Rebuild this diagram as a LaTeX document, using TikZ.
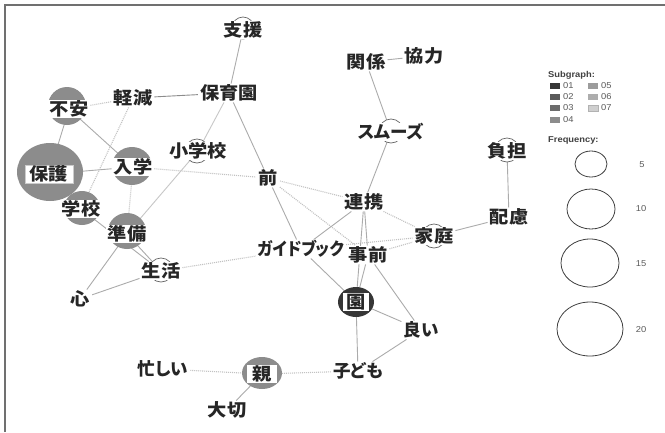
\documentclass[tikz,border=0pt]{standalone}
\usepackage{fontspec}
\newfontfamily\jp{Noto Sans CJK JP}[FakeStretch=1.1, RawFeature=+palt]
\newfontfamily\jpk{Noto Sans CJK JP}[FakeStretch=1.0, RawFeature=+palt]
\newfontfamily\jpn{Noto Sans CJK JP}[FakeStretch=0.91, RawFeature=+palt]
\newfontfamily\lgf{Liberation Sans}[FakeStretch=1.1]
\definecolor{grp1}{HTML}{363636}
\definecolor{grp2}{HTML}{5A5A5A}
\definecolor{grp3}{HTML}{6C6C6C}
\definecolor{grp4}{HTML}{8C8C8C}
\definecolor{grp5}{HTML}{9C9C9C}
\definecolor{grp6}{HTML}{ADADAD}
\definecolor{grp7}{HTML}{CFCFCF}
\definecolor{framec}{HTML}{707070}
\pgfdeclarelayer{bglayer}
\pgfdeclarelayer{edgelayer}
\pgfdeclarelayer{circlelayer}
\pgfsetlayers{bglayer,edgelayer,circlelayer,main}
\tikzset{
  word/.style={fill=white, inner xsep=2pt, inner ysep=0.5pt, text height=15pt, text depth=2.5pt,
    font={\jp\bfseries\fontsize{17.5}{18}\selectfont}, text=black!85},
  kana/.style={word, font={\jpk\bfseries\fontsize{17.5}{18}\selectfont}},
  narrowkana/.style={word, font={\jpn\bfseries\fontsize{17.5}{18}\selectfont}},
  sol/.style={draw=black!33, line width=0.9pt},
  dot/.style={draw=black!24, line width=1.1pt, dash pattern=on 1pt off 1pt},
  smallc/.style={draw=black!60, fill=white, line width=0.7pt},
  lgbold/.style={font={\lgf\bfseries\fontsize{8.5}{10}\selectfont}, text=black!75, inner sep=0pt},
  lgnum/.style={font={\lgf\fontsize{8.5}{10}\selectfont}, text=black!65, inner sep=0pt},
  lgsw/.style={draw=black!30, line width=0.3pt},
  freqc/.style={draw=black!75, line width=0.8pt},
}
\begin{document}
\begin{tikzpicture}[x=1pt, y=-1pt]
\useasboundingbox (0,0) rectangle (665,432);
\begin{pgfonlayer}{bglayer}
\fill[white] (0,0) rectangle (665,432);
\end{pgfonlayer}
\draw[framec, line width=1.7pt] (5,432) -- (5,5) -- (665,5);

% ---------- words ----------
\node[word] (sien) at (243,30) {支援};
\node[word] (hoikuen) at (229,93) {保育園};
\node[word] (keigen) at (133,98) {軽減};
\node[word] (fuan) at (69,109) {不安};
\node[word] (shogakko) at (198,151) {小学校};
\node[word] (nyugaku) at (133,167) {入学};
\node[word, inner xsep=5pt, draw=black!20, line width=0.4pt] (hogo) at (49,174) {保護};
\node[word] (mae) at (268,178) {前};
\node[word] (gakko) at (81,209) {学校};
\node[word] (junbi) at (127,234) {準備};
\node[word] (seikatsu) at (161,271) {生活};
\node[word] (kokoro) at (80,299) {心};
\node[narrowkana] (guide) at (301,249) {ガイドブック};
\node[word] (renkei) at (364,202) {連携};
\node[word] (jizen) at (368,255) {事前};
\node[word] (katei) at (434,236) {家庭};
\node[kana] (smooth) at (391,132) {スムーズ};
\node[word] (kankei) at (366,62) {関係};
\node[word] (kyoryoku) at (424,56) {協力};
\node[word] (futan) at (507,151) {負担};
\node[word] (hairyo) at (509,217) {配慮};
\node[word, inner xsep=3pt] (en) at (356,302) {園};
\node[kana] (yoi) at (421,330) {良い};
\node[kana] (kodomo) at (358,371) {子ども};
\node[word, inner xsep=5pt] (oya) at (262,374) {親};
\node[kana] (isogashii) at (163,369) {忙しい};
\node[word] (taisetsu) at (227,410) {大切};

% ---------- circles ----------
\begin{pgfonlayer}{circlelayer}
\fill[grp4] (50,172) ellipse [x radius=33pt, y radius=29pt];
\fill[grp4] (67,106) ellipse [x radius=19pt, y radius=19pt];
\fill[grp4] (132,166) ellipse [x radius=20pt, y radius=19pt];
\fill[grp4] (82,208) ellipse [x radius=18pt, y radius=17pt];
\fill[grp4] (127,231) ellipse [x radius=19pt, y radius=18pt];
\fill[grp1] (356,302) ellipse [x radius=18pt, y radius=15pt];
\fill[grp4] (262,373) ellipse [x radius=20pt, y radius=16pt];
\path[smallc] (243,28) ellipse [x radius=11pt, y radius=11pt];
\path[smallc] (197,151) ellipse [x radius=12pt, y radius=12pt];
\path[smallc] (161,270) ellipse [x radius=12pt, y radius=12pt];
\path[smallc] (434,236) ellipse [x radius=12pt, y radius=12pt];
\path[smallc] (391,131) ellipse [x radius=12pt, y radius=12pt];
\path[smallc] (507,150) ellipse [x radius=12pt, y radius=12pt];
\end{pgfonlayer}

% ---------- edges ----------
\begin{pgfonlayer}{edgelayer}
\draw[sol] (sien) -- (hoikuen);
\draw[sol, draw=black!45] (keigen) -- (hoikuen);
\draw[sol] (hoikuen) -- (mae);
\draw[sol] (mae) -- (guide);
\draw[sol, draw=black!22] (hoikuen) -- (shogakko);
\draw[sol, draw=black!22] (shogakko) -- (junbi);
\draw[dot] (fuan) -- (keigen);
\draw[sol] (fuan) -- (nyugaku);
\draw[sol] (fuan) -- (hogo);
\draw[sol] (hogo) -- (nyugaku);
\draw[sol] (hogo) -- (gakko);
\draw[dot] (keigen) -- (gakko);
\draw[dot] (nyugaku) -- (junbi);
\draw[dot] (nyugaku) -- (mae);
\draw[sol] (gakko) -- (seikatsu);
\draw[sol] (junbi) -- (seikatsu);
\draw[sol] (junbi) -- (kokoro);
\draw[sol] (kokoro) -- (seikatsu);
\draw[dot] (seikatsu) -- (guide);
\draw[dot] (mae) -- (renkei);
\draw[dot] (mae) -- (jizen);
\draw[sol] (guide) -- (renkei);
\draw[sol] (guide) -- (en);
\draw[dot] (guide) -- (katei);
\draw[dot] (jizen) -- (katei);
\draw[dot] (renkei) -- (katei);
\draw[sol] (renkei) -- (smooth);
\draw[sol] (smooth) -- (kankei);
\draw[sol] (kankei) -- (kyoryoku);
\draw[sol] (renkei) -- (jizen);
\draw[sol] (renkei) -- (en);
\draw[sol] (jizen) -- (en);
\draw[sol] (jizen) -- (yoi);
\draw[sol] (en) -- (yoi);
\draw[sol] (en) -- (kodomo);
\draw[sol] (yoi) -- (kodomo);
\draw[dot] (kodomo) -- (oya);
\draw[dot] (oya) -- (isogashii);
\draw[sol] (oya) -- (taisetsu);
\draw[sol] (katei) -- (hairyo);
\draw[sol] (hairyo) -- (futan);
\end{pgfonlayer}

% ---------- legend ----------
\node[lgbold, anchor=west] (subg) at (548,75) {Subgraph:};
\fill[grp1] (550,83) rectangle (560,89);
\fill[grp2] (550,94) rectangle (560,100);
\fill[grp3] (550,105) rectangle (560,111);
\fill[grp4] (550,117) rectangle (560,123);
\fill[grp5] (588,83) rectangle (598,89);
\fill[grp6] (588,94) rectangle (598,100);
\path[fill=grp7, lgsw] (588,105) rectangle (598,111);
\node[lgnum, anchor=west] (l01) at (563,86) {01};
\node[lgnum, anchor=west] (l02) at (563,97) {02};
\node[lgnum, anchor=west] (l03) at (563,108) {03};
\node[lgnum, anchor=west] (l04) at (563,120) {04};
\node[lgnum, anchor=west] (l05) at (601,86) {05};
\node[lgnum, anchor=west] (l06) at (601,97) {06};
\node[lgnum, anchor=west] (l07) at (601,108) {07};
\node[lgbold, anchor=west] (freq) at (548,140) {Frequency:};
\draw[freqc] (591,164) ellipse [x radius=16pt, y radius=13pt];
\draw[freqc] (591,209) ellipse [x radius=24pt, y radius=20pt];
\draw[freqc] (590,263) ellipse [x radius=29pt, y radius=24pt];
\draw[freqc] (590,329) ellipse [x radius=33pt, y radius=27pt];
\node[lgnum] (f5) at (642,165) {5};
\node[lgnum] (f10) at (641,209) {10};
\node[lgnum] (f15) at (641,264) {15};
\node[lgnum] (f20) at (641,330) {20};
\end{tikzpicture}
\end{document}
